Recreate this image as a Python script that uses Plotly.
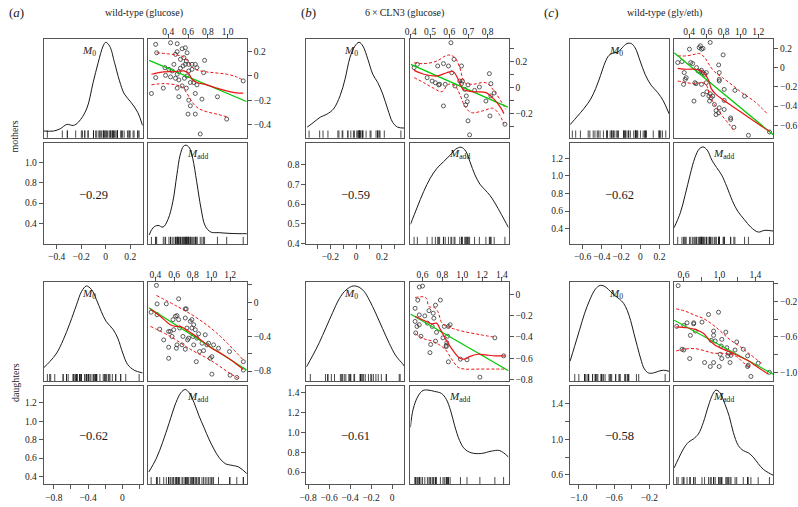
import plotly.graph_objects as go

W, H = 798, 507
SERIF = "Liberation Serif"
BOX = "#555555"
INK = "#1a1a1a"
GREEN = "rgb(0,200,0)"
RED = "rgb(235,20,20)"

# ===================== DATA =====================
# ---- (a) wild-type (glucose), mothers ----
a_m_madd = [0.273, 0.423, 0.49, 0.283, 0.54, 0.49, 0.573, 0.59, 0.473, 0.557, 0.523, 0.583, 0.367, 0.407,
            0.44, 0.49, 0.507, 0.523, 0.55, 0.573, 0.607, 0.64, 0.673, 0.69, 0.64, 0.607, 0.59, 0.563, 0.767,
            0.757, 0.273, 0.373, 0.423, 0.473, 0.507, 0.23, 0.35, 0.49, 0.507, 0.583, 0.623, 0.657, 0.69, 0.607,
            0.673, 0.74, 0.897, 1.157, 0.6, 0.673, 0.623, 0.99, 0.723, 0.54, 0.457]
a_m_m0 = [0.259, 0.272, 0.264, 0.19, 0.223, 0.199, 0.231, 0.19, 0.177, 0.15, 0.136, 0.122, 0.068, 0.054,
          0.041, 0.014, 0.035, 0.063, 0.082, 0.095, 0.095, 0.095, 0.095, 0.068, 0.054, 0.041, 0.0, -0.019, 0.128,
          0.027, -0.014, 0.005, -0.008, -0.019, -0.033, -0.144, -0.1, -0.1, -0.171, -0.1, -0.054, -0.054, -0.073,
          -0.199, -0.144, -0.19, -0.171, -0.041, -0.313, -0.313, -0.245, -0.354, -0.476, -0.082, 0.095]
a_m_lm_x = [0.207, 1.19]
a_m_lm_y = [0.128, -0.21]
a_m_lo_x = [0.23, 0.357, 0.473, 0.557, 0.607, 0.64, 0.69, 0.79, 0.89, 0.99, 1.09, 1.157]
a_m_lo_y = [0.014, 0.033, 0.035, 0.041, 0.019, -0.027, -0.054, -0.073, -0.1, -0.122, -0.139, -0.141]
a_m_up_x = [0.283, 0.39, 0.49, 0.557, 0.607, 0.657, 0.723, 0.857, 0.99, 1.09, 1.157]
a_m_up_y = [0.19, 0.182, 0.171, 0.155, 0.109, 0.06, 0.041, 0.027, 0.014, -0.008, -0.035]
a_m_dn_x = [0.23, 0.357, 0.473, 0.54, 0.583, 0.623, 0.663, 0.717, 0.79, 0.89, 0.99]
a_m_dn_y = [-0.073, -0.063, -0.073, -0.09, -0.136, -0.19, -0.237, -0.272, -0.294, -0.313, -0.335]
a_m_d0_x = [-0.505, -0.425, -0.371, -0.317, -0.264, -0.223, -0.156, -0.103, -0.062, -0.022, 0.0, 0.032,
            0.072, 0.112, 0.152, 0.206, 0.26, 0.3]
a_m_d0_y = [0.067, 0.067, 0.09, 0.134, 0.124, 0.157, 0.291, 0.559, 0.76, 0.928, 0.968, 0.928, 0.76, 0.576,
            0.442, 0.358, 0.258, 0.124]
a_m_da_x = [0.207, 0.247, 0.297, 0.347, 0.397, 0.447, 0.487, 0.52, 0.554, 0.58, 0.614, 0.647, 0.687, 0.73,
            0.774, 0.83, 0.914, 1.014, 1.114, 1.194]
a_m_da_y = [0.09, 0.162, 0.185, 0.168, 0.243, 0.423, 0.685, 0.881, 0.969, 0.979, 0.953, 0.848, 0.619, 0.358,
            0.178, 0.119, 0.113, 0.106, 0.103, 0.103]

# ---- (a) wild-type (glucose), daughters ----
a_d_madd = [0.411, 0.418, 0.354, 0.418, 0.446, 0.517, 0.542, 0.56, 0.578, 0.542, 0.542, 0.589, 0.614, 0.649,
            0.631, 0.649, 0.66, 0.631, 0.624, 0.695, 0.72, 0.73, 0.72, 0.738, 0.745, 0.72, 0.685, 0.774, 0.791,
            0.802, 0.81, 0.81, 0.827, 0.791, 0.845, 0.838, 0.863, 0.899, 0.934, 0.916, 0.952, 0.97, 0.987, 1.005,
            1.005, 1.023, 1.076, 0.873, 1.194, 1.2, 1.272, 1.342, 1.342, 0.489, 0.596, 0.756]
a_d_m0 = [0.195, -0.02, -0.117, -0.145, -0.313, -0.02, -0.34, -0.34, -0.398, -0.523, -0.652, -0.203, -0.164,
          0.039, -0.156, -0.203, -0.3, -0.496, -0.535, -0.398, -0.078, -0.078, -0.184, -0.3, -0.438, -0.547,
          -0.496, -0.223, -0.3, -0.398, -0.496, -0.262, -0.32, -0.203, -0.418, -0.691, -0.367, -0.477, -0.379,
          -0.563, -0.496, -0.477, -0.652, -0.633, -0.836, -0.496, -0.535, -0.574, -0.574, -0.848, -0.875, -0.691,
          -0.789, -0.438, -0.32, -0.418]
a_d_lm_x = [0.329, 1.379]
a_d_lm_y = [-0.066, -0.789]
a_d_lo_x = [0.347, 0.453, 0.56, 0.614, 0.667, 0.72, 0.774, 0.863, 0.987, 1.13, 1.236, 1.342]
a_d_lo_y = [-0.078, -0.164, -0.262, -0.281, -0.281, -0.313, -0.352, -0.418, -0.523, -0.613, -0.691, -0.781]
a_d_up_x = [0.411, 0.631, 0.845, 1.058, 1.342]
a_d_up_y = [0.078, -0.047, -0.184, -0.359, -0.672]
a_d_dn_x = [0.347, 0.56, 0.774, 0.987, 1.2, 1.29]
a_d_dn_y = [-0.281, -0.398, -0.547, -0.672, -0.828, -0.887]
a_d_d0_x = [-0.92, -0.843, -0.766, -0.689, -0.612, -0.535, -0.477, -0.42, -0.362, -0.304, -0.246, -0.189,
            -0.111, -0.054, 0.004, 0.062, 0.139, 0.235]
a_d_d0_y = [0.133, 0.2, 0.283, 0.417, 0.583, 0.767, 0.9, 0.957, 0.923, 0.823, 0.7, 0.6, 0.523, 0.433, 0.283,
            0.167, 0.11, 0.083]
a_d_da_x = [0.33, 0.408, 0.478, 0.549, 0.62, 0.673, 0.719, 0.761, 0.814, 0.867, 0.92, 0.973, 1.026, 1.079,
            1.15, 1.221, 1.292, 1.38]
a_d_da_y = [0.125, 0.259, 0.428, 0.63, 0.832, 0.933, 0.966, 0.933, 0.832, 0.697, 0.579, 0.461, 0.36, 0.276,
            0.209, 0.192, 0.175, 0.108]

# ---- (b) 6xCLN3 (glucose), mothers ----
b_m_madd = [0.417, 0.434, 0.485, 0.511, 0.528, 0.545, 0.55, 0.54, 0.57, 0.596, 0.579, 0.57, 0.609, 0.625,
            0.613, 0.664, 0.655, 0.664, 0.669, 0.681, 0.689, 0.686, 0.694, 0.698, 0.706, 0.698, 0.732, 0.757,
            0.809, 0.817, 0.834, 0.817, 0.812, 0.89, 0.791, 0.63]
b_m_m0 = [0.154, 0.179, 0.077, 0.051, 0.038, 0.021, 0.026, 0.167, 0.185, 0.167, 0.026, -0.141, 0.346, 0.218,
          0.115, 0.167, 0.051, 0.031, 0.051, -0.013, -0.064, -0.133, -0.108, -0.256, -0.364, 0.021, -0.021,
          0.005, 0.108, 0.031, -0.041, -0.064, -0.218, -0.282, -0.103, 0.013]
b_m_lm_x = [0.4, 0.905]
b_m_lm_y = [0.179, -0.15]
b_m_lo_x = [0.417, 0.468, 0.536, 0.587, 0.621, 0.647, 0.672, 0.723, 0.791, 0.834, 0.868, 0.885]
b_m_lo_y = [0.133, 0.103, 0.09, 0.115, 0.123, 0.064, -0.013, -0.031, -0.038, -0.09, -0.154, -0.2]
b_m_up_x = [0.417, 0.468, 0.536, 0.579, 0.604, 0.63, 0.655, 0.681, 0.723, 0.791, 0.834, 0.877, 0.894]
b_m_up_y = [0.192, 0.185, 0.205, 0.244, 0.251, 0.231, 0.154, 0.038, 0.026, 0.038, -0.026, -0.123, -0.167]
b_m_dn_x = [0.417, 0.468, 0.519, 0.562, 0.596, 0.63, 0.655, 0.681, 0.715, 0.774, 0.826, 0.86, 0.885]
b_m_dn_y = [0.077, 0.038, -0.005, -0.031, 0.026, 0.013, -0.051, -0.141, -0.192, -0.179, -0.159, -0.205, -0.282]
b_m_d0_x = [-0.378, -0.327, -0.277, -0.226, -0.175, -0.124, -0.086, -0.048, -0.01, 0.023, 0.053, 0.091, 0.129,
            0.167, 0.206, 0.244, 0.282, 0.32, 0.374]
b_m_d0_y = [0.107, 0.157, 0.208, 0.238, 0.291, 0.425, 0.593, 0.811, 0.928, 0.968, 0.928, 0.794, 0.643, 0.559,
            0.442, 0.291, 0.157, 0.107, 0.097]
b_m_da_x = [0.398, 0.432, 0.467, 0.501, 0.536, 0.57, 0.605, 0.634, 0.662, 0.686, 0.708, 0.734, 0.76, 0.786,
            0.812, 0.838, 0.872, 0.909]
b_m_da_y = [0.194, 0.358, 0.521, 0.652, 0.75, 0.815, 0.881, 0.94, 0.959, 0.92, 0.815, 0.685, 0.593, 0.538,
            0.482, 0.407, 0.292, 0.162]

# ---- (b) 6xCLN3 (glucose), daughters ----
b_d_madd = [0.567, 0.6, 0.525, 0.552, 0.525, 0.544, 0.567, 0.531, 0.567, 0.584, 0.623, 0.665, 0.675, 0.682,
            0.698, 0.708, 0.714, 0.731, 0.741, 0.731, 0.78, 0.806, 0.819, 0.839, 0.845, 0.839, 0.852, 0.861,
            0.861, 0.878, 0.982, 1.048, 1.178, 1.329, 1.417, 0.649]
b_d_m0 = [0.068, 0.077, -0.132, -0.055, -0.255, -0.302, -0.286, -0.363, -0.194, -0.394, -0.203, -0.154,
          -0.548, -0.471, -0.302, -0.178, -0.225, -0.102, -0.357, -0.44, -0.055, -0.409, -0.302, -0.48, -0.455,
          -0.492, -0.394, -0.634, -0.302, -0.286, -0.609, -0.615, -0.778, -0.409, -0.578, -0.271]
b_d_lm_x = [0.478, 1.467]
b_d_lm_y = [-0.186, -0.718]
b_d_lo_x = [0.525, 0.616, 0.698, 0.741, 0.78, 0.845, 0.91, 0.976, 1.025, 1.074, 1.156, 1.237, 1.335, 1.433]
b_d_lo_y = [-0.209, -0.246, -0.277, -0.271, -0.332, -0.44, -0.532, -0.6, -0.609, -0.585, -0.563, -0.569,
            -0.578, -0.578]
b_d_up_x = [0.525, 0.633, 0.665, 0.714, 0.754, 0.796, 0.845, 0.91, 1.008, 1.172, 1.329]
b_d_up_y = [-0.031, -0.031, -0.117, -0.123, -0.163, -0.271, -0.302, -0.323, -0.348, -0.378, -0.403]
b_d_dn_x = [0.525, 0.616, 0.698, 0.763, 0.829, 0.894, 0.959, 1.025, 1.172, 1.335, 1.433]
b_d_dn_y = [-0.369, -0.418, -0.44, -0.471, -0.517, -0.609, -0.686, -0.702, -0.702, -0.702, -0.702]
b_d_d0_x = [-0.816, -0.757, -0.693, -0.63, -0.566, -0.503, -0.439, -0.37, -0.313, -0.265, -0.218, -0.154,
            -0.091, -0.027, 0.036, 0.1, 0.118]
b_d_d0_y = [0.142, 0.255, 0.387, 0.536, 0.689, 0.828, 0.917, 0.957, 0.944, 0.901, 0.818, 0.679, 0.53, 0.381,
            0.255, 0.175, 0.149]
b_d_da_x = [0.478, 0.505, 0.555, 0.605, 0.655, 0.723, 0.79, 0.84, 0.884, 0.924, 0.974, 1.024, 1.091, 1.192,
            1.293, 1.377, 1.467]
b_d_da_y = [0.579, 0.764, 0.899, 0.956, 0.96, 0.946, 0.926, 0.865, 0.747, 0.596, 0.444, 0.36, 0.32, 0.313,
            0.337, 0.343, 0.276]

# ---- (c) wild-type (gly/eth), mothers ----
c_m_madd = [0.268, 0.317, 0.404, 0.419, 0.441, 0.531, 0.543, 0.516, 0.561, 0.644, 0.343, 0.366, 0.355, 0.336,
            0.467, 0.479, 0.505, 0.524, 0.543, 0.561, 0.58, 0.543, 0.561, 0.456, 0.599, 0.606, 0.629, 0.636,
            0.644, 0.655, 0.674, 0.693, 0.712, 0.742, 0.749, 0.712, 0.742, 0.749, 0.749, 0.749, 0.794, 0.806,
            0.806, 0.806, 0.881, 0.881, 0.918, 0.93, 1.042, 1.087, 1.331, 0.599, 0.486]
c_m_m0 = [0.055, 0.065, 0.195, 0.055, 0.044, 0.23, 0.195, 0.212, 0.202, 0.265, -0.05, -0.103, -0.121, -0.173,
          -0.156, -0.166, -0.033, -0.04, -0.026, -0.05, -0.068, -0.173, -0.278, -0.348, -0.156, -0.25, -0.296,
          -0.348, -0.271, -0.313, -0.296, -0.383, -0.447, -0.471, -0.418, -0.489, 0.03, -0.05, -0.121, -0.138,
          0.135, -0.226, -0.341, -0.436, -0.524, -0.541, -0.622, -0.236, -0.296, -0.706, -0.671, -0.05, 0.002]
c_m_lm_x = [0.226, 1.374]
c_m_lm_y = [0.157, -0.7]
c_m_lo_x = [0.268, 0.373, 0.467, 0.543, 0.599, 0.629, 0.655, 0.712, 0.787, 0.899, 1.012, 1.125, 1.238, 1.331]
c_m_lo_y = [-0.005, -0.015, -0.015, -0.033, -0.086, -0.138, -0.215, -0.278, -0.331, -0.401, -0.471, -0.541,
            -0.611, -0.664]
c_m_up_x = [0.268, 0.373, 0.467, 0.524, 0.58, 0.629, 0.693, 0.787, 0.899, 1.012, 1.162, 1.313]
c_m_up_y = [0.125, 0.125, 0.142, 0.149, 0.107, 0.037, -0.04, -0.103, -0.18, -0.261, -0.355, -0.489]
c_m_dn_x = [0.268, 0.373, 0.467, 0.524, 0.569, 0.606, 0.636, 0.693, 0.787, 0.881, 0.93]
c_m_dn_y = [-0.138, -0.156, -0.166, -0.156, -0.156, -0.191, -0.278, -0.383, -0.506, -0.611, -0.671]
c_m_d0_x = [-0.73, -0.652, -0.583, -0.515, -0.463, -0.412, -0.367, -0.326, -0.275, -0.231, -0.189, -0.138,
            -0.094, -0.053, -0.001, 0.05, 0.112, 0.18, 0.238, 0.3]
c_m_d0_y = [0.131, 0.218, 0.298, 0.392, 0.499, 0.633, 0.76, 0.834, 0.861, 0.868, 0.911, 0.955, 0.955, 0.911,
            0.777, 0.643, 0.533, 0.459, 0.375, 0.241]
c_m_da_x = [0.226, 0.298, 0.355, 0.411, 0.467, 0.516, 0.561, 0.61, 0.663, 0.719, 0.776, 0.836, 0.9, 0.963,
            1.039, 1.114, 1.2, 1.275, 1.374]
c_m_da_y = [0.162, 0.309, 0.489, 0.685, 0.855, 0.94, 0.962, 0.93, 0.832, 0.757, 0.685, 0.57, 0.43, 0.325,
            0.243, 0.168, 0.119, 0.136, 0.129]

# ---- (c) wild-type (gly/eth), daughters ----
c_d_madd = [0.541, 0.604, 0.64, 0.714, 0.714, 0.732, 0.677, 0.806, 0.879, 0.99, 0.935, 0.953, 0.909, 0.935,
            1.071, 1.026, 1.019, 1.008, 1.026, 1.082, 1.093, 1.118, 1.1, 1.174, 1.192, 1.265, 1.313, 1.32, 1.313,
            1.431, 1.35, 0.604, 0.585, 0.669, 0.835, 0.898, 0.935, 0.997, 1.129, 1.556, 0.525]
c_d_m0 = [-0.02, -0.47, -0.44, -0.44, -0.451, -0.533, -0.582, -0.432, -0.346, -0.32, -0.533, -0.646, -0.638,
          -0.582, -0.545, -0.627, -0.702, -0.796, -0.844, -0.721, -0.814, -0.889, -0.784, -0.747, -0.657, -0.739,
          -0.814, -0.919, -0.934, -0.897, -1.046, -0.747, -0.739, -0.844, -0.889, -0.934, -0.889, -0.934, -0.807,
          -1.0, -0.48]
c_d_lm_x = [0.496, 1.598]
c_d_lm_y = [-0.41, -1.021]
c_d_lo_x = [0.519, 0.64, 0.751, 0.824, 0.879, 0.953, 1.026, 1.118, 1.21, 1.321, 1.431, 1.541]
c_d_lo_y = [-0.485, -0.496, -0.522, -0.56, -0.627, -0.694, -0.732, -0.769, -0.814, -0.87, -0.945, -1.02]
c_d_up_x = [0.519, 0.622, 0.732, 0.806, 0.898, 0.99, 1.063, 1.137, 1.229, 1.339, 1.468]
c_d_up_y = [-0.282, -0.309, -0.357, -0.384, -0.44, -0.515, -0.582, -0.646, -0.709, -0.796, -0.897]
c_d_dn_x = [0.519, 0.604, 0.732, 0.843, 0.935, 1.026, 1.118, 1.192, 1.265, 1.339]
c_d_dn_y = [-0.758, -0.739, -0.732, -0.758, -0.784, -0.784, -0.796, -0.822, -0.889, -0.945]
c_d_d0_x = [-1.1, -1.048, -0.991, -0.934, -0.876, -0.819, -0.774, -0.736, -0.69, -0.64, -0.591, -0.541,
            -0.492, -0.45, -0.412, -0.374, -0.336, -0.297, -0.256, -0.21, -0.153, -0.096, -0.038, 0.025]
c_d_d0_y = [0.2, 0.35, 0.517, 0.683, 0.817, 0.917, 0.957, 0.963, 0.943, 0.9, 0.86, 0.827, 0.783, 0.71, 0.61,
            0.477, 0.35, 0.223, 0.123, 0.083, 0.083, 0.1, 0.11, 0.1]
c_d_da_x = [0.496, 0.544, 0.6, 0.655, 0.71, 0.766, 0.821, 0.877, 0.925, 0.962, 1.006, 1.062, 1.11, 1.154,
            1.21, 1.265, 1.321, 1.376, 1.432, 1.487, 1.543, 1.598]
c_d_da_y = [0.165, 0.259, 0.36, 0.428, 0.461, 0.512, 0.63, 0.798, 0.916, 0.96, 0.933, 0.815, 0.69, 0.529,
            0.394, 0.343, 0.32, 0.276, 0.209, 0.152, 0.118, 0.091]

# correlations, titles, labels
corr_values = ["\u22120.29", "\u22120.62", "\u22120.59", "\u22120.61", "\u22120.62", "\u22120.58"]
panel_titles = ["wild-type (glucose)", "6\u2009\u00d7\u2009CLN3 (glucose)", "wild-type (gly/eth)"]
panel_letters = ["a", "b", "c"]
row_labels = ["mothers", "daughters"]

# axis ranges [M0 range, M_add range] per group
a_m_ranges = ([-0.506, 0.302], [0.193, 1.194])
a_d_ranges = ([-0.918, 0.238], [0.318, 1.38])
b_m_ranges = ([-0.385, 0.374], [0.398, 0.909])
b_d_ranges = ([-0.816, 0.118], [0.478, 1.467])
c_m_ranges = ([-0.73, 0.30], [0.226, 1.374])
c_d_ranges = ([-1.1, 0.025], [0.496, 1.598])

# tick values (labelled, unlabelled) for: scatter x (M_add), scatter y (M0), lower-left x (M0), lower-left y (M_add)
a_m_ticks = (([0.4, 0.6, 0.8, 1.0], []), ([0.2, 0.0, -0.2, -0.4], []),
             ([-0.4, -0.2, 0.0, 0.2], []), ([0.4, 0.6, 0.8, 1.0], []))
a_d_ticks = (([0.4, 0.6, 0.8, 1.0, 1.2], []), ([0.0, -0.4, -0.8], [0.2, -0.2, -0.6]),
             ([-0.8, -0.4, 0.0], [-0.6, -0.2, 0.2]), ([0.4, 0.6, 0.8, 1.0, 1.2], []))
b_m_ticks = (([0.4, 0.5, 0.6, 0.7, 0.8], []), ([0.2, 0.0, -0.2], [0.3, 0.1, -0.1, -0.3]),
             ([-0.2, 0.0, 0.2], [-0.3, -0.1, 0.1, 0.3]), ([0.4, 0.5, 0.6, 0.7, 0.8], []))
b_d_ticks = (([0.6, 0.8, 1.0, 1.2, 1.4], []), ([0.0, -0.2, -0.4, -0.6, -0.8], []),
             ([-0.8, -0.6, -0.4, -0.2, 0.0], []), ([0.6, 0.8, 1.0, 1.2, 1.4], []))
c_m_ticks = (([0.4, 0.6, 0.8, 1.0, 1.2], []), ([0.2, 0.0, -0.2, -0.4, -0.6], []),
             ([-0.6, -0.4, -0.2, 0.0, 0.2], []), ([0.4, 0.6, 0.8, 1.0, 1.2], []))
c_d_ticks = (([0.6, 1.0, 1.4], [0.8, 1.2]), ([-0.2, -0.6, -1.0], [0.0, -0.4, -0.8]),
             ([-1.0, -0.6, -0.2], [-0.8, -0.4, 0.0]), ([0.6, 1.0, 1.4], [0.8, 1.2, 1.6]))

# ===================== FIGURE =====================
def G(pfx):
    g = globals()
    return {k: g[pfx + "_" + k] for k in
            ["madd", "m0", "lm_x", "lm_y", "lo_x", "lo_y", "up_x", "up_y", "dn_x", "dn_y",
             "d0_x", "d0_y", "da_x", "da_y", "ranges", "ticks"]}

groups = [G("a_m"), G("a_d"), G("b_m"), G("b_d"), G("c_m"), G("c_d")]

# pixel geometry of the panel boxes
COLS = [((37, 137), (142, 242)), ((302, 401), (407, 506)), ((568, 668), (673, 773))]
ROWS = [((39.5, 139), (144.5, 246.5)), ((284.5, 385), (390, 489))]

fig = go.Figure()
layout = dict(width=W, height=H, margin=dict(l=0, r=0, t=0, b=0), autosize=False,
              paper_bgcolor="white", plot_bgcolor="white", showlegend=False,
              font=dict(family=SERIF, color=INK, size=10))
annotations = []
TF = dict(family=SERIF, size=9.5, color=INK)


def fmt(v):
    s = f"{abs(v):.1f}"
    if s == "0.0":
        return "0"
    return ("\u2212" + s) if v < 0 else s


def names(i):
    return ("x" if i == 1 else f"x{i}", "y" if i == 1 else f"y{i}",
            "xaxis" if i == 1 else f"xaxis{i}", "yaxis" if i == 1 else f"yaxis{i}")


def axis(dom, rng, anchor, side=None, ticks=None):
    a = dict(domain=dom, range=rng, anchor=anchor, showgrid=False, zeroline=False, showline=True,
             mirror=True, linecolor=BOX, linewidth=1, fixedrange=True)
    if ticks is None:
        a.update(showticklabels=False, ticks="")
    else:
        major, minor = ticks
        a.update(side=side, ticks="outside", ticklen=4, tickwidth=1, tickcolor=BOX, tickangle=0,
                 tickmode="array", tickvals=major, ticktext=[fmt(v) for v in major], tickfont=TF)
        if side == "top":
            a["ticklabelstandoff"] = -5
        if minor:
            a["minor"] = dict(tickmode="array", tickvals=minor, ticks="outside", ticklen=4,
                              tickwidth=1, tickcolor=BOX, showgrid=False)
    return a


def px2fx(p):
    return p / W


def px2fy(p):
    return 1 - p / H


def note(xp, yp, text, size, angle=0):
    annotations.append(dict(x=px2fx(xp), y=px2fy(yp), xref="paper", yref="paper", text=text,
                            xanchor="center", yanchor="middle", showarrow=False, textangle=angle,
                            font=dict(family=SERIF, size=size, color=INK)))


idx = 0
for gi, g in enumerate(groups):
    col = COLS[gi // 2]
    row = ROWS[gi % 2]
    m0r, mar = g["ranges"]
    tsx, tsy, tlx, tly = g["ticks"]
    panels = [
        (col[0], row[0], m0r, [0, 1], None, None, None, None),
        (col[1], row[0], mar, m0r, "top", "right", tsx, tsy),
        (col[0], row[1], m0r, mar, "bottom", "left", tlx, tly),
        (col[1], row[1], mar, [0, 1], None, None, None, None),
    ]
    ids = []
    for (xp, yp, xr, yr, xs, ys, xt, yt) in panels:
        idx += 1
        xn, yn, xan, yan = names(idx)
        xdom = [px2fx(xp[0]), px2fx(xp[1])]
        ydom = [px2fy(yp[1]), px2fy(yp[0])]
        layout[xan] = axis(xdom, xr, yn, xs, xt)
        layout[yan] = axis(ydom, yr, xn, ys, yt)
        ids.append((xn, yn, xp, yp))

    rug = dict(symbol="line-ns-open", size=6, color=INK, line=dict(width=0.8, color=INK))

    # top-left: density of M0 + rug
    xn, yn, xp, yp = ids[0]
    fig.add_trace(go.Scatter(x=g["d0_x"], y=g["d0_y"], mode="lines", line=dict(color=INK, width=1, shape="spline"),
                             xaxis=xn, yaxis=yn, hoverinfo="skip"))
    fig.add_trace(go.Scatter(x=g["m0"], y=[0.03] * len(g["m0"]), mode="markers", marker=rug,
                             xaxis=xn, yaxis=yn, hoverinfo="skip"))
    note((xp[0] + xp[1]) / 2 - 4, yp[0] + 12, "<i>M</i><sub>0</sub>", 11)

    # top-right: scatter + fits
    xn, yn, xp, yp = ids[1]
    fig.add_trace(go.Scatter(x=g["madd"], y=g["m0"], mode="markers",
                             marker=dict(symbol="circle-open", size=4, color="#333333", line=dict(width=0.8)),
                             xaxis=xn, yaxis=yn, hoverinfo="skip"))
    fig.add_trace(go.Scatter(x=g["up_x"], y=g["up_y"], mode="lines",
                             line=dict(color=RED, width=1, dash="3px,2px", shape="spline"), xaxis=xn, yaxis=yn))
    fig.add_trace(go.Scatter(x=g["dn_x"], y=g["dn_y"], mode="lines",
                             line=dict(color=RED, width=1, dash="3px,2px", shape="spline"), xaxis=xn, yaxis=yn))
    fig.add_trace(go.Scatter(x=g["lm_x"], y=g["lm_y"], mode="lines", line=dict(color=GREEN, width=1.2),
                             xaxis=xn, yaxis=yn))
    fig.add_trace(go.Scatter(x=g["lo_x"], y=g["lo_y"], mode="lines",
                             line=dict(color=RED, width=1.2, shape="spline"), xaxis=xn, yaxis=yn))

    # bottom-left: correlation text
    xn, yn, xp, yp = ids[2]
    fig.add_trace(go.Scatter(x=[None], y=[None], mode="markers", xaxis=xn, yaxis=yn, hoverinfo="skip"))
    note((xp[0] + xp[1]) / 2, (yp[0] + yp[1]) / 2 + 1, corr_values[gi], 12.5)

    # bottom-right: density of M_add + rug
    xn, yn, xp, yp = ids[3]
    fig.add_trace(go.Scatter(x=g["da_x"], y=g["da_y"], mode="lines", line=dict(color=INK, width=1, shape="spline"),
                             xaxis=xn, yaxis=yn, hoverinfo="skip"))
    fig.add_trace(go.Scatter(x=g["madd"], y=[0.03] * len(g["madd"]), mode="markers", marker=rug,
                             xaxis=xn, yaxis=yn, hoverinfo="skip"))
    note((xp[0] + xp[1]) / 2, yp[0] + 11, "<i>M</i><sub>add</sub>", 11)

# titles and letters
title_x = [138, 401, 663]
letter_x = [10, 304, 549]
for k in range(3):
    note(title_x[k], 13, panel_titles[k], 10)
    note(letter_x[k], 13, "(<i>" + panel_letters[k] + "</i>)", 13)
row_y = [138, 386]
for k in range(2):
    note(8, row_y[k], row_labels[k], 10, -90)

layout["annotations"] = annotations
fig.update_layout(**layout)
fig.write_html("out.html", config={"displayModeBar": False},
               post_script="document.body.style.margin='0';document.body.style.padding='0';")
